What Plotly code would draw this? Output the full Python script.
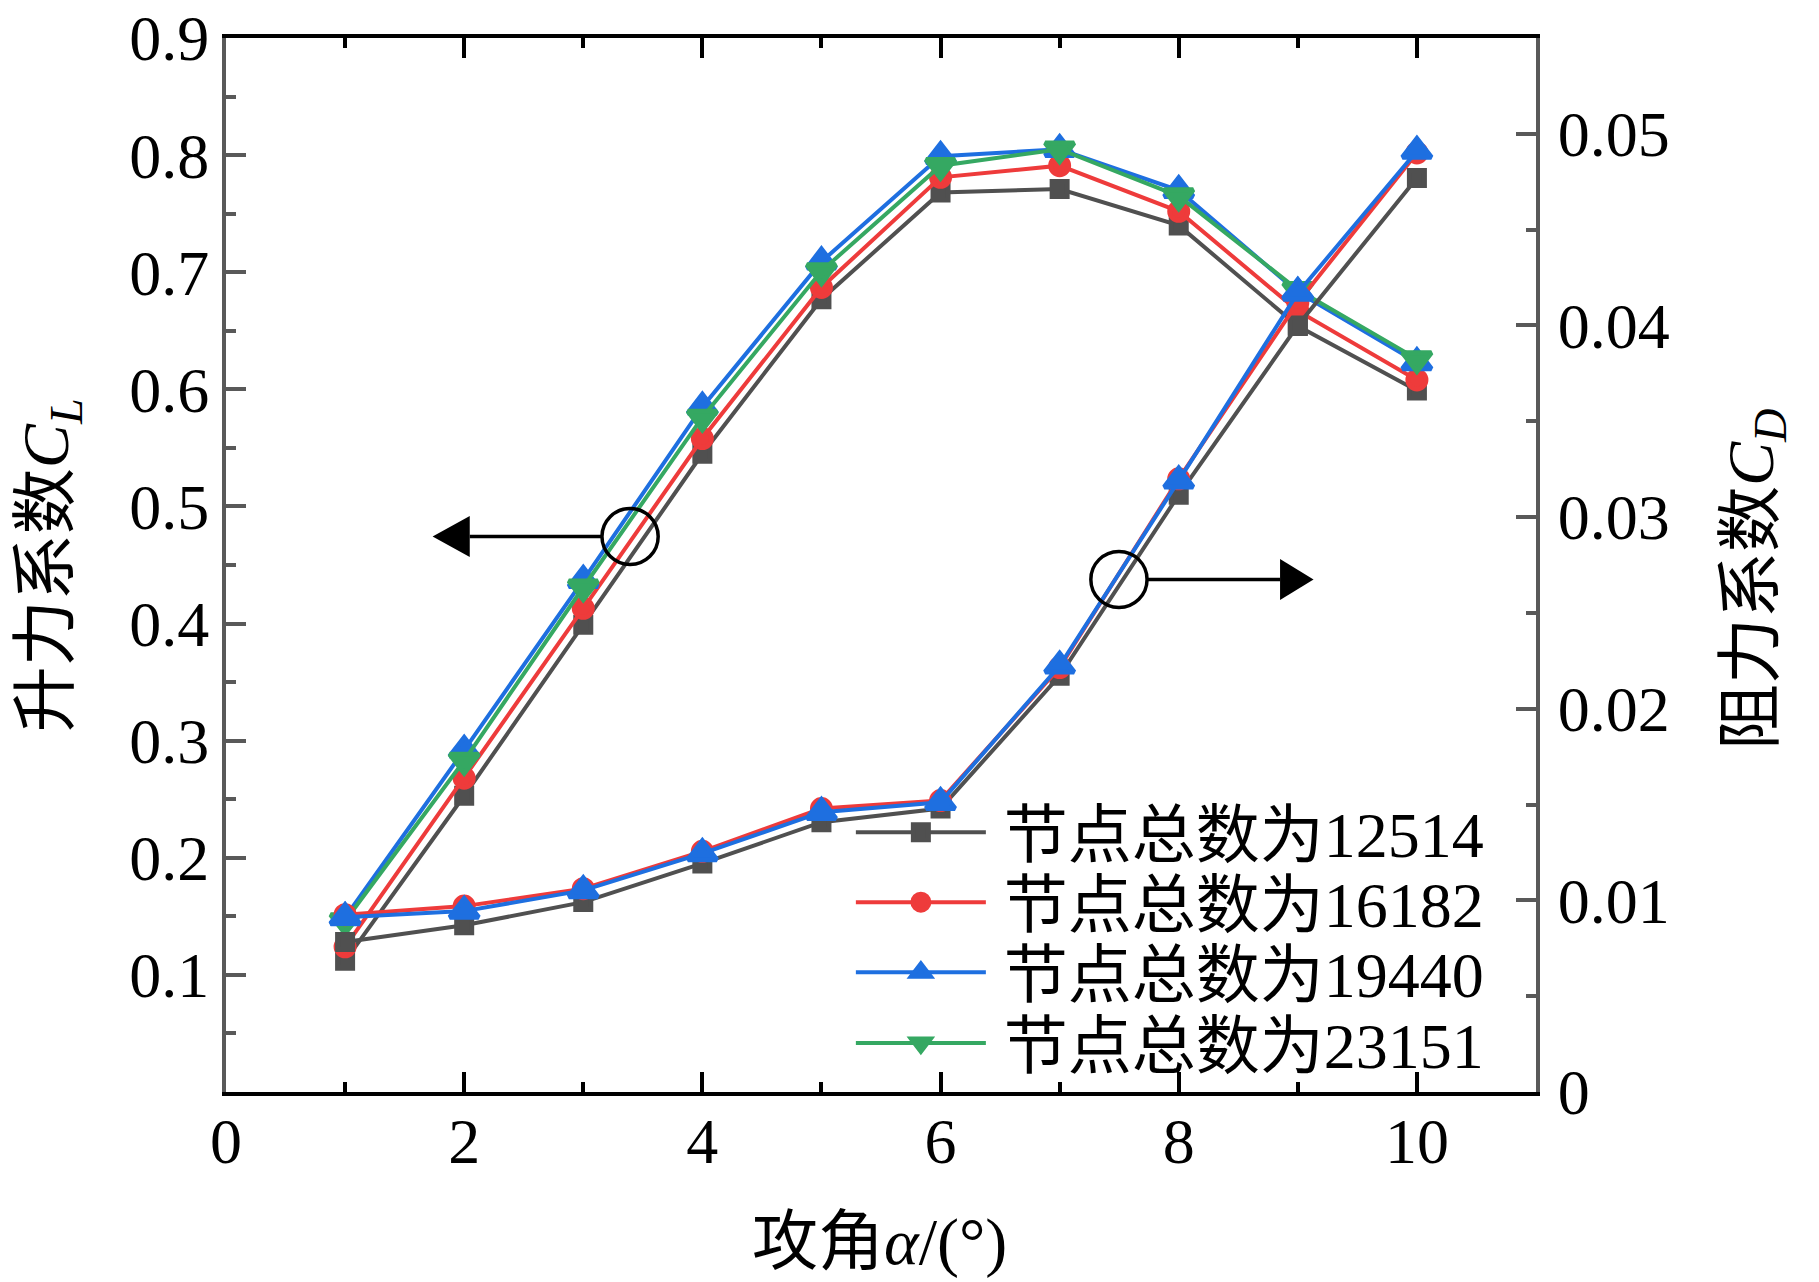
import plotly.graph_objects as go

# angle of attack (deg)
alpha = [1, 2, 3, 4, 5, 6, 7, 8, 9, 10]

# lift coefficient C_L, per mesh size
cl_12514 = [0.112, 0.253, 0.399, 0.545, 0.677, 0.768, 0.771, 0.740, 0.654, 0.599]
cl_16182 = [0.124, 0.268, 0.413, 0.558, 0.687, 0.781, 0.791, 0.752, 0.667, 0.608]
cl_19440 = [0.149, 0.292, 0.437, 0.585, 0.709, 0.799, 0.805, 0.770, 0.683, 0.623]
cl_23151 = [0.146, 0.283, 0.431, 0.576, 0.701, 0.791, 0.805, 0.765, 0.685, 0.626]

# drag coefficient C_D (right axis)
cd_12514 = [0.00783, 0.0087, 0.00991, 0.01193, 0.01408, 0.01479, 0.02172, 0.03116, 0.0400, 0.0477]
cd_16182 = [0.00925, 0.0097, 0.01061, 0.01256, 0.01479, 0.01521, 0.02215, 0.0320, 0.0412, 0.0490]
cd_19440 = [0.00912, 0.00944, 0.01052, 0.01245, 0.0146, 0.01512, 0.02224, 0.0319, 0.0417, 0.0491]

node_counts = ["12514", "16182", "19440", "23151"]
colors = ["#505050", "#EE3B3B", "#1E6FE0", "#35A862"]
symbols = ["square", "circle", "triangle-up", "triangle-down"]
# marker outline (same colour) adds 5px; it also lets the legend markers grow
sizes = [15, 18, 25, 25]

cl_ticks = [0.1, 0.2, 0.3, 0.4, 0.5, 0.6, 0.7, 0.8, 0.9]
cd_ticks = [0, 0.01, 0.02, 0.03, 0.04, 0.05]
cd_ticktext = ["0", "0.01", "0.02", "0.03", "0.04", "0.05"]
x_ticks = [0, 2, 4, 6, 8, 10]

FONT = "Liberation Serif, Times New Roman, Noto Sans CJK SC, serif"
AX_GRAY = "#595959"


def serif(s):
    return f"<span style='font-family:Liberation Serif'>{s}</span>"


names = ["\u2009节点总数为" + serif(n) for n in node_counts]

fig = go.Figure()

legends = ["legend", "legend2", "legend3", "legend4"]
cl_series = [cl_12514, cl_16182, cl_19440, cl_23151]
for i, ys in enumerate(cl_series):
    fig.add_trace(go.Scatter(
        x=alpha, y=ys, name=names[i], mode="lines+markers",
        line=dict(color=colors[i], width=4),
        marker=dict(symbol=symbols[i], size=sizes[i], color=colors[i],
                    line=dict(color=colors[i], width=5)),
        legend=legends[i],
    ))

cd_series = [cd_12514, cd_16182, cd_19440]
for i, ys in enumerate(cd_series):
    fig.add_trace(go.Scatter(
        x=alpha, y=ys, name=names[i], mode="lines+markers", yaxis="y2",
        line=dict(color=colors[i], width=4),
        marker=dict(symbol=symbols[i], size=sizes[i], color=colors[i],
                    line=dict(color=colors[i], width=5)),
        showlegend=False,
    ))

# circle + arrow markers telling which curve belongs to which axis
shapes = []
def circle_arrow(cx, cy, tip_x, base_x, line_end):
    rx, ry = 0.236, 0.0239
    shapes.append(dict(type="circle", xref="x", yref="y",
                       x0=cx - rx, x1=cx + rx, y0=cy - ry, y1=cy + ry,
                       line=dict(color="black", width=3.5)))
    shapes.append(dict(type="line", xref="x", yref="y",
                       x0=base_x, x1=line_end, y0=cy, y1=cy,
                       line=dict(color="black", width=3.5)))
    shapes.append(dict(type="path", xref="x", yref="y",
                       path=f"M {tip_x},{cy} L {base_x},{cy + 0.0175} L {base_x},{cy - 0.0175} Z",
                       fillcolor="black", line=dict(width=0)))

circle_arrow(3.393, 0.4744, 1.735, 2.047, 3.157)
circle_arrow(7.498, 0.4377, 9.132, 8.851, 7.734)

legend_y = [0.2461, 0.1797, 0.1133, 0.0460]
legend_style = dict(x=0.477, xanchor="left", yanchor="middle",
                    bgcolor="rgba(0,0,0,0)", itemwidth=130,
                    font=dict(family=FONT, size=64, color="black"))

fig.update_layout(
    width=1819, height=1282,
    # page body adds 8px, so margins are shifted to compensate
    margin=dict(l=218, r=291, t=30, b=198, autoexpand=False),
    plot_bgcolor="white", paper_bgcolor="white",
    font=dict(family=FONT, size=64, color="black"),
    shapes=shapes,
    xaxis=dict(range=[0, 11], tickvals=x_ticks, showgrid=False, zeroline=False,
               automargin=False,
               showline=True, linecolor="black", linewidth=4, mirror="ticks",
               ticks="inside", ticklen=20, tickwidth=3.5, tickcolor="black",
               ticklabelstandoff=-10, ticklabeloverflow="allow",
               minor=dict(dtick=1, tick0=0, ticks="inside", ticklen=10,
                          tickwidth=3.5, tickcolor="black"),
               tickfont=dict(family=FONT, size=64)),
    yaxis=dict(range=[0, 0.9], tickvals=cl_ticks, showgrid=False, zeroline=False,
               automargin=False,
               showline=True, linecolor=AX_GRAY, linewidth=4,
               ticks="inside", ticklen=20, tickwidth=3.5, tickcolor=AX_GRAY,
               ticklabeloverflow="allow",
               minor=dict(dtick=0.05, tick0=0, ticks="inside", ticklen=10,
                          tickwidth=3.5, tickcolor=AX_GRAY),
               tickfont=dict(family=FONT, size=64)),
    yaxis2=dict(range=[0, 0.055], tickvals=cd_ticks, ticktext=cd_ticktext,
                overlaying="y", side="right", showgrid=False, zeroline=False,
                automargin=False,
                showline=True, linecolor=AX_GRAY, linewidth=4,
                ticks="inside", ticklen=20, tickwidth=3.5, tickcolor=AX_GRAY,
                ticklabelstandoff=5, ticklabeloverflow="allow",
                minor=dict(dtick=0.005, tick0=0, ticks="inside", ticklen=10,
                           tickwidth=3.5, tickcolor=AX_GRAY),
                tickfont=dict(family=FONT, size=64)),
    annotations=[
        dict(text="攻角" + serif("<i>α</i>/(°)"), xref="paper", yref="paper",
             x=0.499, y=-0.142, xanchor="center", yanchor="middle",
             showarrow=False, font=dict(family=FONT, size=66)),
        dict(text="升力系数" + serif("<i>C</i><sub><i>L</i></sub>"), xref="paper", yref="paper",
             x=-0.1344, y=0.4998, xanchor="center", yanchor="middle",
             textangle=-90, showarrow=False, font=dict(family=FONT, size=66)),
        dict(text="阻力系数" + serif("<i>C</i><sub><i>D</i></sub>"), xref="paper", yref="paper",
             x=1.167, y=0.4865, xanchor="center", yanchor="middle",
             textangle=-90, showarrow=False, font=dict(family=FONT, size=66)),
    ],
)

for name, ly in zip(legends, legend_y):
    fig.update_layout({name: dict(y=ly, **legend_style)})

fig.write_html("out.html")
